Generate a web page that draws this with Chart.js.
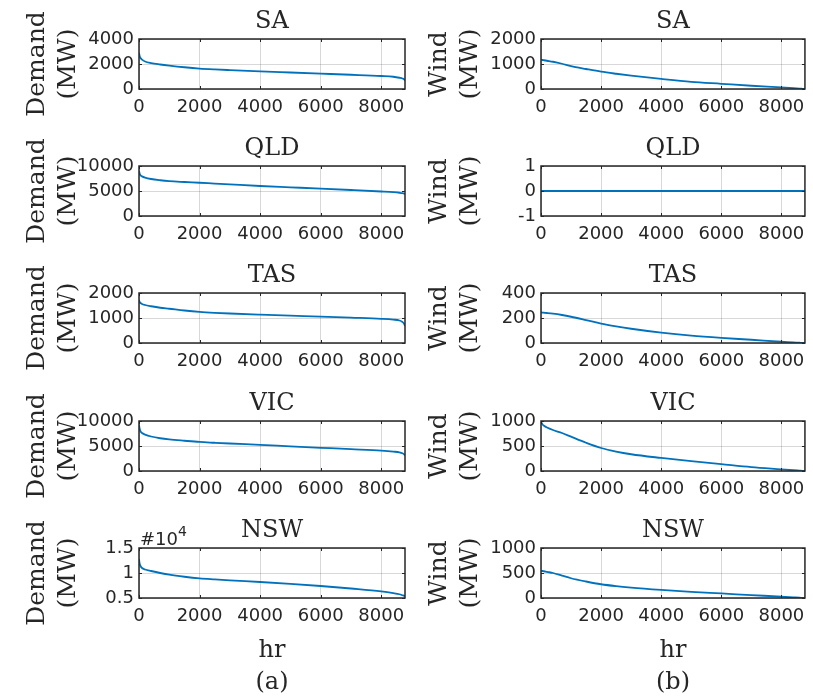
<!DOCTYPE html>
<html lang="en">
<head>
<meta charset="UTF-8">
<title>Demand and wind duration curves</title>
<script src="https://cdn.jsdelivr.net/npm/chart.js"></script>
<style>
  body { margin: 0; background: #fff; }
  #fig { position: relative; width: 813px; height: 700px; overflow: hidden; background: #fff; }
  #fig canvas { position: absolute; }
</style>
</head>
<body>
<div id="fig"></div>
<script>
// sorted hourly values (duration curves)
const hours = [0, 20, 50, 100, 200, 400, 700, 1000, 1500, 2000, 2500, 3000, 4000, 5000, 6000, 7000, 8000, 8400, 8600, 8700, 8760, 8784];
const regions = ['SA', 'QLD', 'TAS', 'VIC', 'NSW'];

const demandSA  = [2880, 2650, 2480, 2350, 2200, 2070, 1960, 1870, 1740, 1635, 1565, 1510, 1410, 1320, 1230, 1140, 1040, 980, 900, 840, 760, 670];
const demandQLD = [9030, 8500, 8150, 7930, 7680, 7400, 7150, 6970, 6800, 6650, 6480, 6320, 6000, 5740, 5480, 5200, 4900, 4760, 4650, 4560, 4450, 4390];
const demandTAS = [1716, 1640, 1600, 1560, 1520, 1470, 1410, 1370, 1300, 1245, 1208, 1180, 1135, 1095, 1058, 1015, 968, 935, 900, 840, 760, 684];
const demandVIC = [9226, 8500, 7935, 7600, 7290, 6900, 6550, 6320, 6050, 5806, 5650, 5500, 5226, 4930, 4645, 4360, 4065, 3880, 3742, 3550, 3300, 3097];
const demandNSW = [12800, 11900, 11400, 11000, 10700, 10400, 10000, 9660, 9250, 8930, 8720, 8530, 8200, 7820, 7400, 6900, 6330, 5980, 5750, 5550, 5420, 5330];

const windSA  = [1176, 1170, 1160, 1150, 1130, 1090, 1010, 915, 800, 693, 610, 536, 405, 288, 209, 130, 65, 35, 18, 8, 2, 0];
const windQLD = [0, 0, 0, 0, 0, 0, 0, 0, 0, 0, 0, 0, 0, 0, 0, 0, 0, 0, 0, 0, 0, 0];
const windTAS = [245, 244, 243, 242, 240, 235, 224, 210, 183, 155, 133, 114, 83, 59, 41, 26, 10, 5, 2, 1, 0, 0];
const windVIC = [987, 960, 930, 905, 870, 820, 760, 686, 565, 460, 388, 335, 261, 196, 137, 78, 33, 15, 7, 3, 1, 0];
const windNSW = [545, 543, 540, 535, 523, 500, 447, 395, 330, 275, 237, 208, 162, 123, 91, 58, 26, 12, 5, 2, 0, 0];

// axis ranges / ticks
const xTicks = [0, 2000, 4000, 6000, 8000];
const xMax = 8784;
const demandYMin  = [0, 0, 0, 0, 5000];
const demandYMax  = [4000, 10000, 2000, 10000, 15000];
const demandYStep = [2000, 5000, 1000, 5000, 5000];
const windYMin  = [0, -1, 0, 0, 0];
const windYMax  = [2000, 1, 400, 1000, 1000];
const windYStep = [1000, 1, 200, 500, 500];

const demand = [demandSA, demandQLD, demandTAS, demandVIC, demandNSW];
const wind = [windSA, windQLD, windTAS, windVIC, windNSW];

Chart.defaults.font.family = 'DejaVu Sans';
Chart.defaults.color = '#262626';

const TXT = '#262626';
const GRID = 'rgba(38,38,38,0.18)';
const rowTop = [39, 166, 293, 421, 548];
const boxH = 50, boxW = 266, yAxisW = 139, titleH = 39;

// MATLAB-like box with inward tick marks
const framePlugin = {
  id: 'frame',
  afterDatasetsDraw(chart) {
    const ctx = chart.ctx, a = chart.chartArea;
    const x = chart.scales.x, y = chart.scales.y;
    ctx.save();
    ctx.strokeStyle = TXT;
    ctx.lineWidth = 1;
    ctx.beginPath();
    x.ticks.forEach(t => {
      const px = Math.round(x.getPixelForValue(t.value)) + 0.5;
      ctx.moveTo(px, a.bottom); ctx.lineTo(px, a.bottom - 3);
      ctx.moveTo(px, a.top); ctx.lineTo(px, a.top + 3);
    });
    y.ticks.forEach(t => {
      const py = Math.round(y.getPixelForValue(t.value)) + 0.5;
      ctx.moveTo(a.left, py); ctx.lineTo(a.left + 3, py);
      ctx.moveTo(a.right, py); ctx.lineTo(a.right - 3, py);
    });
    ctx.stroke();
    ctx.lineWidth = 1.5;
    ctx.strokeRect(a.left, a.top, a.right - a.left, a.bottom - a.top);
    ctx.restore();
  }
};

// "#10^4" exponent note above the NSW demand axis
const exponentPlugin = {
  id: 'exponent',
  afterDraw(chart, args, opts) {
    if (!opts.show) return;
    const ctx = chart.ctx, a = chart.chartArea;
    ctx.save();
    ctx.fillStyle = TXT;
    ctx.textBaseline = 'alphabetic';
    ctx.font = '18px DejaVu Sans';
    ctx.fillText('#10', a.left + 1, a.top - 3);
    const w = ctx.measureText('#10').width;
    ctx.font = '14px DejaVu Sans';
    ctx.fillText('4', a.left + 1 + w, a.top - 12);
    ctx.restore();
  }
};

function makeChart(col, row) {
  const isDemand = col === 0;
  const values = isDemand ? demand[row] : wind[row];
  const bottom = row === 4;
  const left = isDemand ? 0 : 402;
  const width = isDemand ? 413 : 411;
  const top = rowTop[row] - titleH;
  const xAxisH = bottom ? 102 : 30;
  const height = titleH + boxH + xAxisH;

  const canvas = document.createElement('canvas');
  canvas.width = width;
  canvas.height = height;
  canvas.style.left = left + 'px';
  canvas.style.top = top + 'px';
  document.getElementById('fig').appendChild(canvas);

  const pts = hours.map((h, i) => ({ x: h, y: values[i] }));
  const scaleNote = isDemand && row === 4;

  return new Chart(canvas.getContext('2d'), {
    type: 'line',
    data: {
      datasets: [{
        data: pts,
        borderColor: '#0072BD',
        borderWidth: 1.8,
        pointRadius: 0,
        fill: false,
        cubicInterpolationMode: 'monotone'
      }]
    },
    options: {
      responsive: false,
      animation: false,
      layout: { padding: { left: 0, right: width - yAxisW - boxW, top: 0, bottom: 0 } },
      plugins: {
        legend: { display: false },
        tooltip: { enabled: false },
        title: {
          display: true,
          text: regions[row],
          fullSize: false,
          color: TXT,
          font: { family: 'DejaVu Serif', size: 24, weight: 'normal', lineHeight: '26px' },
          padding: { top: 9, bottom: 4 }
        },
        exponent: { show: scaleNote }
      },
      scales: {
        x: {
          type: 'linear',
          min: 0,
          max: xMax,
          grid: { color: GRID, drawTicks: false },
          border: { display: false },
          ticks: {
            maxRotation: 0,
            autoSkip: false,
            padding: 8,
            color: TXT,
            font: { size: 18 },
            callback: v => String(v)
          },
          afterBuildTicks: s => { s.ticks = xTicks.map(v => ({ value: v })); },
          title: {
            display: bottom,
            text: ['hr', isDemand ? '(a)' : '(b)'],
            color: TXT,
            font: { family: 'DejaVu Serif', size: 24, lineHeight: '32px' },
            padding: { top: 0, bottom: 1 }
          },
          afterFit: s => { s.height = xAxisH; }
        },
        y: {
          min: isDemand ? demandYMin[row] : windYMin[row],
          max: isDemand ? demandYMax[row] : windYMax[row],
          grid: { color: GRID, drawTicks: false },
          border: { display: false },
          ticks: {
            stepSize: isDemand ? demandYStep[row] : windYStep[row],
            padding: 5,
            color: TXT,
            font: { size: 18 },
            callback: v => scaleNote ? String(v / 10000) : String(v)
          },
          title: {
            display: true,
            text: [isDemand ? 'Demand' : 'Wind', '(MW)'],
            color: TXT,
            font: { family: 'DejaVu Serif', size: 25, lineHeight: '31px' },
            padding: { top: 22, bottom: 0 }
          },
          afterFit: s => { s.width = yAxisW; }
        }
      }
    },
    plugins: [framePlugin, exponentPlugin]
  });
}

for (let r = 0; r < 5; r++) {
  makeChart(0, r);
  makeChart(1, r);
}
</script>
</body>
</html>
